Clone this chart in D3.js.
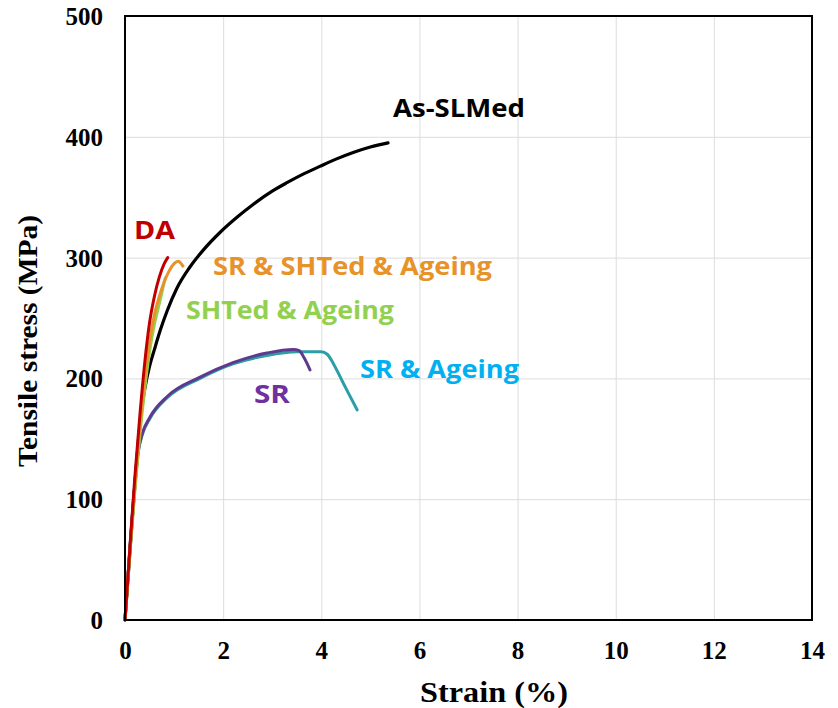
<!DOCTYPE html>
<html><head><meta charset="utf-8">
<script src="https://cdn.jsdelivr.net/npm/d3@7"></script>
<style>body{margin:0;background:#fff}svg{display:block}</style>
</head><body>
<svg id="chart" width="838" height="708"></svg>
<script>
const xTicks = [0,2,4,6,8,10,12,14];
const yTicks = [0,100,200,300,400,500];

const asSLMed = [[0,0],[0.08,45],[0.15,85],[0.22,122],[0.28,152],[0.34,175],[0.41,193],[0.5,210],[0.6,224],[0.72,240],[0.86,256],[1.05,274],[1.32,292],[1.59,306],[1.94,321],[2.3,334],[2.61,344],[3.0,355],[3.3,362],[3.65,369.5],[3.97,375.5],[4.3,381.5],[4.65,387],[5.0,391.5],[5.36,395]];
const da = [[0,0],[0.1,60],[0.2,118],[0.3,168],[0.4,212],[0.5,246],[0.6,268],[0.7,284],[0.8,295],[0.87,300]];
const srShtAgeing = [[0,0],[0.1,58],[0.2,110],[0.3,158],[0.4,198],[0.5,230],[0.6,253],[0.7,268],[0.8,280],[0.9,289],[1.0,295],[1.08,297],[1.18,293]];
const shtAgeing = [[0,0],[0.1,56],[0.2,106],[0.3,152],[0.4,190],[0.5,222],[0.6,245],[0.7,262],[0.82,283]];
const sr = [[0,0],[0.1,60],[0.2,112],[0.27,140],[0.35,154],[0.51,168],[0.86,185],[1.53,201],[2.2,213],[2.89,221],[3.43,224],[3.55,223],[3.65,217],[3.77,207]];
const srAgeing = [[0,0],[0.1,58],[0.2,110],[0.27,139],[0.35,153],[0.51,167],[0.86,184],[1.53,200],[2.2,212],[2.89,219],[3.5,222],[4.0,222],[4.12,220],[4.25,212],[4.4,200],[4.55,188],[4.73,174]];

const seriesNames = ["SR & Ageing","SR","As-SLMed","SHTed & Ageing","SR & SHTed & Ageing","DA"];
const seriesData = [srAgeing, sr, asSLMed, shtAgeing, srShtAgeing, da];
const lineColors = ["#2a9fa6","#5e3a8e","#000000","#92d050","#e8922a","#c00000"];
const labelColors = ["#00b0f0","#7030a0","#000000","#92d050","#e8922a","#c00000"];

const svg = d3.select("#chart");
const L=125, R=812, T=16, B=620;
const x = d3.scaleLinear().domain([0,14]).range([L,R]);
const y = d3.scaleLinear().domain([0,500]).range([B,T]);

// grid
svg.append("g").attr("transform",`translate(0,${B})`)
  .call(d3.axisBottom(x).tickValues(xTicks).tickSize(-(B-T)).tickFormat(""))
  .call(g=>g.select(".domain").remove())
  .call(g=>g.selectAll("line").attr("stroke","#dcdcdc").attr("stroke-width",1));
svg.append("g").attr("transform",`translate(${L},0)`)
  .call(d3.axisLeft(y).tickValues(yTicks).tickSize(-(R-L)).tickFormat(""))
  .call(g=>g.select(".domain").remove())
  .call(g=>g.selectAll("line").attr("stroke","#dcdcdc").attr("stroke-width",1));

// tick labels
svg.append("g").attr("transform",`translate(0,${B})`)
  .call(d3.axisBottom(x).tickValues(xTicks).tickSize(0))
  .call(g=>g.select(".domain").remove())
  .call(g=>g.selectAll("text").attr("y",39).attr("dy",0).attr("font-family","Liberation Serif").attr("font-weight","bold").attr("font-size",25).attr("fill","#000"));
svg.append("g").attr("transform",`translate(${L},0)`)
  .call(d3.axisLeft(y).tickValues(yTicks).tickSize(0).tickPadding(22))
  .call(g=>g.select(".domain").remove())
  .call(g=>g.selectAll("text").attr("font-family","Liberation Serif").attr("font-weight","bold").attr("font-size",25).attr("fill","#000").attr("dy","0.34em"));

// curves
const line = d3.line().x(d=>x(d[0])).y(d=>y(d[1])).curve(d3.curveMonotoneX);
svg.append("g").selectAll("path").data(seriesData).join("path")
  .attr("d",line).attr("fill","none")
  .attr("stroke",(d,i)=>lineColors[i])
  .attr("stroke-width",(d,i)=>i===2?3.2:3)
  .attr("stroke-linecap","round").attr("stroke-linejoin","round");

// frame
svg.append("rect").attr("x",L).attr("y",T).attr("width",R-L).attr("height",B-T)
  .attr("fill","none").attr("stroke","#000").attr("stroke-width",2);

// series labels
const labelX = [360,254,393,186,213,134];
const labelY = [369,394,108,310,266,230];
const labelW = [159,36,132,208,279,41];
svg.append("g").selectAll("text").data(seriesNames).join("text")
  .attr("x",(d,i)=>labelX[i]).attr("y",(d,i)=>labelY[i])
  .attr("dy","0.35em")
  .attr("font-family","Open Sans").attr("font-weight","bold").attr("font-size",25)
  .attr("fill",(d,i)=>labelColors[i])
  .attr("textLength",(d,i)=>labelW[i]).attr("lengthAdjust","spacingAndGlyphs")
  .text(d=>d);

// axis titles
svg.append("text").attr("x",420).attr("y",702)
  .attr("font-family","Liberation Serif").attr("font-weight","bold")
  .attr("font-size",29).attr("textLength",148).attr("lengthAdjust","spacingAndGlyphs").text("Strain (%)");
svg.append("text").attr("transform",`translate(37,467) rotate(-90)`)
  .attr("font-family","Liberation Serif").attr("font-weight","bold")
  .attr("font-size",27).attr("textLength",252).attr("lengthAdjust","spacingAndGlyphs").text("Tensile stress (MPa)");
</script>
</body></html>
